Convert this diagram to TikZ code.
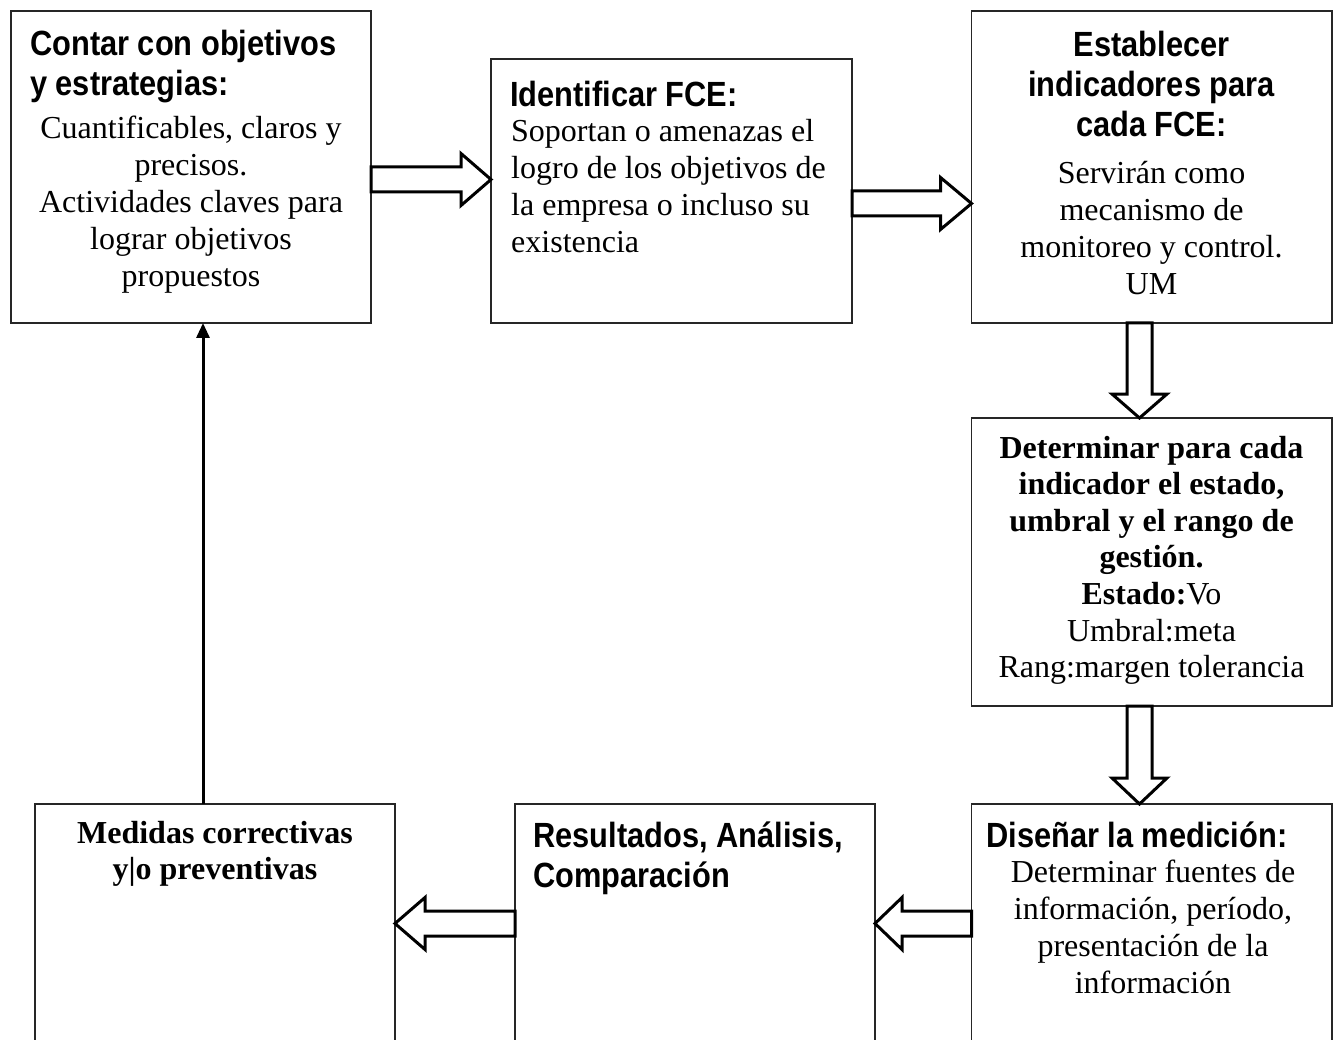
\documentclass[tikz,border=0pt]{standalone}
\usepackage{fontspec}
\setmainfont{Liberation Serif}
\newfontfamily\hsans[FakeStretch=0.88]{Liberation Sans}
\usetikzlibrary{calc,arrows.meta}
\newcommand\lines[2]{\begin{tabular}[t]{@{}#1@{}}#2\end{tabular}}
% horizontal block arrow: from, tip, signed head length
\newcommand\hblock[3]{%
 \draw[blk] let \p1=(#1), \p2=(#2) in
 (\x1,\y1+12.5pt) -- ({\x2-(#3)},\y1+12.5pt) -- ({\x2-(#3)},\y1+26pt) -- (\x2,\y1)
 -- ({\x2-(#3)},\y1-26pt) -- ({\x2-(#3)},\y1-12.5pt) -- (\x1,\y1-12.5pt) -- cycle;}
% vertical (downward) block arrow: from, tip, head length
\newcommand\vblock[3]{%
 \draw[blk] let \p1=(#1), \p2=(#2) in
 (\x1-12.5pt,\y1) -- (\x1-12.5pt,{\y2+(#3)}) -- (\x1-27.5pt,{\y2+(#3)}) -- (\x1,\y2)
 -- (\x1+27.5pt,{\y2+(#3)}) -- (\x1+12.5pt,{\y2+(#3)}) -- (\x1+12.5pt,\y1) -- cycle;}
\begin{document}
\begin{tikzpicture}[x=1pt,y=-1pt,
 box/.style={draw=black!85, line width=1.6pt, fill=white, inner sep=0pt, outer sep=0pt, anchor=north west},
 blk/.style={draw=black, line width=3pt, fill=white, line join=miter},
 head/.style={font=\hsans\bfseries\fontsize{35}{40}\selectfont, inner sep=0pt},
 body/.style={font=\fontsize{32}{37}\selectfont, inner sep=0pt},
 bbody/.style={font=\bfseries\fontsize{32}{36.6}\selectfont, inner sep=0pt},
 link/.style={line width=3pt, -{Triangle[width=13pt,length=15pt]}}]
\useasboundingbox (0,0) rectangle (1333,1040);
\fill[white] (0,0) rectangle (1333,1040);
\clip (0,0) rectangle (1333,1040);

% boxes
\node[box, minimum width=360.5pt, minimum height=312pt] (b1) at (10.7,11) {};
\node[box, minimum width=361pt, minimum height=264pt] (b2) at (491,59) {};
\node[box, minimum width=360.5pt, minimum height=312pt] (b3) at (971.5,11) {};
\node[box, minimum width=360.5pt, minimum height=288pt] (b4) at (971.5,418) {};
\node[box, minimum width=360.5pt, minimum height=260pt] (b5) at (971.5,804) {};
\node[box, minimum width=360pt, minimum height=260pt] (b6) at (515,804) {};
\node[box, minimum width=360pt, minimum height=260pt] (b7) at (35,804) {};

% texts
\node[head, anchor=base west] (h1) at (30,56) {\lines{l}{Contar con objetivos\\y estrategias:}};
\node[body, anchor=base] (t1) at (191,139) {\lines{c}{Cuantificables, claros y\\precisos.\\Actividades claves para\\lograr objetivos\\propuestos}};

\node[head, anchor=base west] (h2) at (510,107) {Identificar FCE:};
\node[body, anchor=base west] (t2) at (511,142) {\lines{l}{Soportan o amenazas el\\logro de los objetivos de\\la empresa o incluso su\\existencia}};

\node[head, anchor=base] (h3) at (1151.5,57) {\lines{c}{Establecer\\indicadores para\\cada FCE:}};
\node[body, anchor=base] (t3) at (1151.5,184) {\lines{c}{Servirán como\\mecanismo de\\monitoreo y control.\\UM}};

\node[bbody, anchor=base] (t4) at (1151.5,458) {\lines{c}{Determinar para cada\\indicador el estado,\\umbral y el rango de\\gestión.\\Estado:\mdseries Vo\\\mdseries Umbral:meta\\\mdseries Rang:margen tolerancia}};

\node[head, anchor=base west] (h5) at (986,847) {Diseñar la medición:};
\node[body, anchor=base] (t5) at (1153,882) {\lines{c}{Determinar fuentes de\\información, período,\\presentación de la\\información}};

\node[head, anchor=base west] (h6) at (533,847) {\lines{l}{Resultados, Análisis,\\Comparación}};

\node[bbody, anchor=base] (t7) at (215,843) {\lines{c}{Medidas correctivas\\y|o preventivas}};

% helper coordinates
\coordinate (ya1) at (0,179.5);
\coordinate (ya2) at (0,203.5);
\coordinate (xd) at (1139.5,0);
\coordinate (yl) at (0,923.5);
\coordinate (xt) at (203,0);

% block arrows
\hblock{b1.east |- ya1}{b2.west |- ya1}{30pt}
\hblock{b2.east |- ya2}{b3.west |- ya2}{31pt}
\vblock{b3.south -| xd}{b4.north -| xd}{24pt}
\vblock{b4.south -| xd}{b5.north -| xd}{26pt}
\hblock{b5.west |- yl}{b6.east |- yl}{-27pt}
\hblock{b6.west |- yl}{b7.east |- yl}{-30pt}

% feedback arrow
\draw[link] (b7.north -| xt) -- (b1.south -| xt);
\end{tikzpicture}
\end{document}
